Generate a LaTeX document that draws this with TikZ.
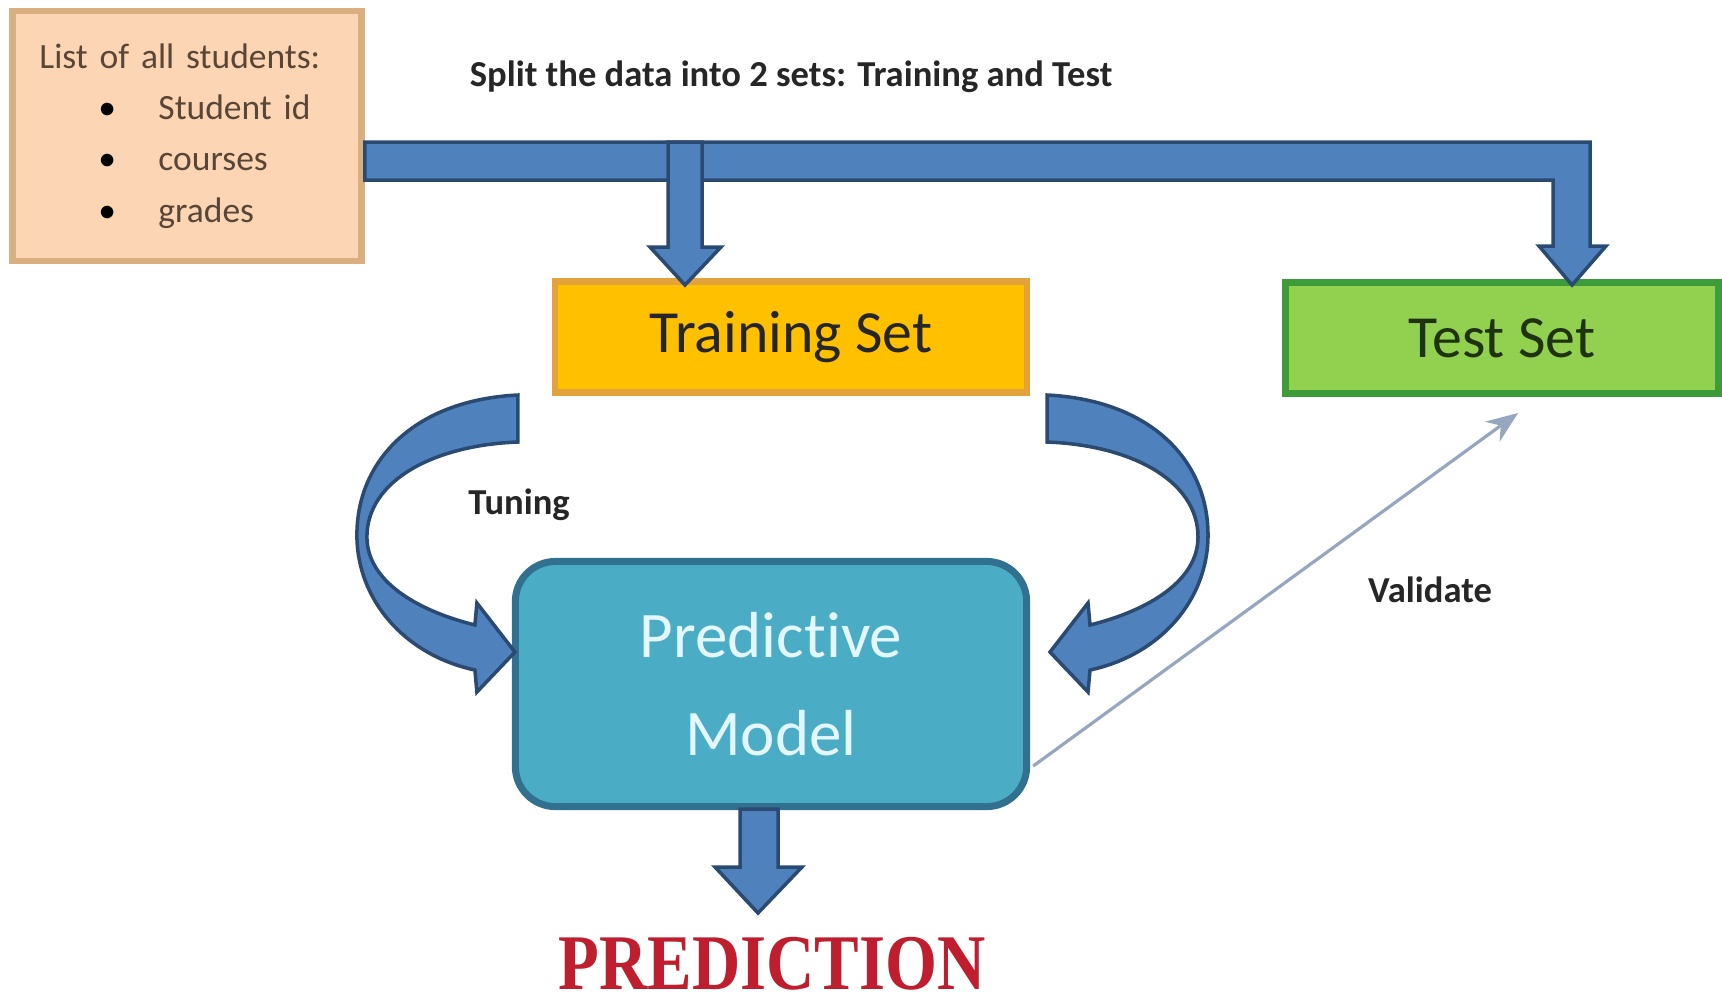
\documentclass[tikz,border=0pt]{standalone}
\usepackage{fontspec}
\setmainfont{Carlito}[Ligatures=NoCommon]
\newfontfamily\predfont{Liberation Serif}
\usetikzlibrary{arrows.meta}
\definecolor{studentpeach}{HTML}{FCD5B5}
\definecolor{studentedge}{HTML}{D9AF80}
\definecolor{studenttext}{HTML}{5A4636}
\definecolor{trainorange}{HTML}{FFC000}
\definecolor{trainedge}{HTML}{E3A23C}
\definecolor{testgreen}{HTML}{92D050}
\definecolor{testedge}{HTML}{3E9B3A}
\definecolor{testtext}{HTML}{1F3312}
\definecolor{modelblue}{HTML}{4BACC6}
\definecolor{modeledge}{HTML}{31708F}
\definecolor{modeltext}{HTML}{E2F7FF}
\definecolor{arrowblue}{HTML}{4F81BD}
\definecolor{arrowedge}{HTML}{2B4A72}
\definecolor{validgrey}{HTML}{97A6BF}
\definecolor{predred}{HTML}{BE1E2D}

\tikzset{
  setbox/.style={draw, line width=1.8pt, minimum height=1.11cm, font=\fontsize{17}{20}\selectfont},
  blockarrow/.style={draw=arrowedge, fill=arrowblue, line width=1pt, line join=miter},
  smalllabel/.style={text=black!85, font=\fontsize{10.4}{12}\selectfont\bfseries}
}

\begin{document}
\begin{tikzpicture}[x=0.01cm, y=-0.01cm]
        \path[use as bounding box, fill=white] (0,0) rectangle (1722,1002);

        % Student list
        \node[draw=studentedge, fill=studentpeach, line width=1.8pt, text=studenttext,
              minimum width=3.49cm, minimum height=2.5cm, inner xsep=0.27cm, text width=2.95cm,
              align=left, font=\fontsize{10.1}{14.6}\selectfont] (students) at (187,136)
          {List of all students:\\
           \hspace*{0.59cm}\makebox[0.6cm][l]{\textcolor{black}{\textbullet}}Student id\\
           \hspace*{0.59cm}\makebox[0.6cm][l]{\textcolor{black}{\textbullet}}courses\\
           \hspace*{0.59cm}\makebox[0.6cm][l]{\textcolor{black}{\textbullet}}grades};

        % Training and test sets
        \node[setbox, draw=trainedge, fill=trainorange, text=black!85, minimum width=4.72cm] (train) at (791,337) {Training Set};
        \node[setbox, draw=testedge, fill=testgreen, text=testtext, minimum width=4.33cm] (test) at (1502,338) {Test Set};

        % Predictive model
        \node[draw=modeledge, fill=modelblue, line width=2pt, rounded corners=0.4cm,
              minimum width=5.11cm, minimum height=2.45cm, text=modeltext, align=center,
              font=\fontsize{18.5}{28}\selectfont] (model) at (771,684) {Predictive\\Model};
        \node[text=predred, font=\predfont\bfseries\fontsize{19}{22}\selectfont] (prediction) at (772,964) {\scalebox{1}[1.18]{PREDICTION}};

        % Labels
        \node[smalllabel] (split) at (791,77) {Split the data into 2 sets: Training and Test};
        \node[smalllabel] (tuning) at (519,505) {Tuning};
        \node[smalllabel] (validate) at (1430,590) {Validate};

        % Split bar, bent down to the test set
        \draw[blockarrow] (students.east |- 0,142) -- (1590,142) -- (1590,246) -- (1606,246) -- (1572,285)
          -- (1539,246) -- (1553,246) -- (1553,180) -- (students.east |- 0,180) -- cycle;
        % Down to the training set
        \draw[blockarrow] (668,142) -- (702,142) -- (702,247) -- (721,247) -- (685,285) -- (650,247) -- (668,247) -- cycle;

        % Model output
        \draw[blockarrow] (740,809) -- (778,809) -- (778,867) -- (802,867) -- (758,913) -- (715,867) -- (740,867) -- cycle;

        % Tuning arrows (right one, then its mirror image)
        \foreach \s/\sh in {1/0, -1/15.64} {
          \begin{scope}[xshift=\sh cm, xscale=\s]
            \draw[blockarrow] (1047,395) .. controls (1150,400) and (1208,460) .. (1208,535)
              .. controls (1208,600) and (1160,655) .. (1090,670)
              -- (1088,692) -- (1050,652) -- (1088,603) -- (1090,625)
              .. controls (1150,610) and (1198,580) .. (1198,537)
              .. controls (1198,480) and (1130,445) .. (1047,442) -- cycle;
          \end{scope}
        }

        % Validation line
        \coordinate (valtip) at (1518,413);
        \draw[validgrey, line width=0.9pt, -{Stealth[length=9pt, width=7pt]}] ([xshift=0.03cm, yshift=-0.82cm]model.east) -- (valtip);
      \end{tikzpicture}
\end{document}
